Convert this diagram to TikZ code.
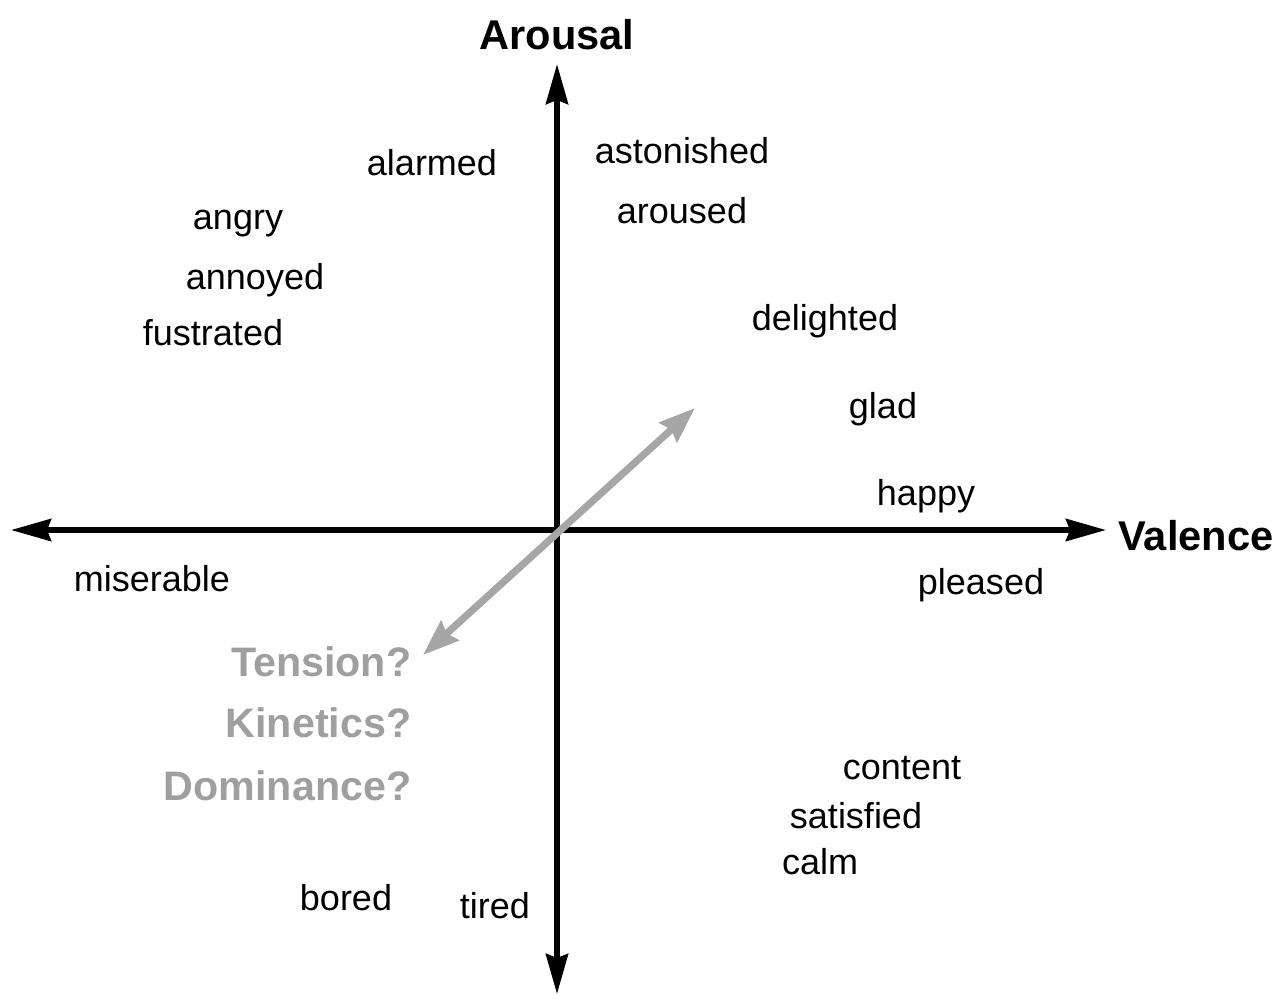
\documentclass[tikz,border=0pt]{standalone}
\usepackage{fontspec}
\setmainfont{Liberation Sans}
\usetikzlibrary{arrows.meta}

\tikzset{
  axis/.style={line width=1.4pt,black,-{Stealth[length=10pt,width=5.5pt,inset=1pt]}},
  emotion/.style={anchor=base,inner sep=0pt,font=\fontsize{9}{10}\selectfont},
  axislabel/.style={anchor=base,inner sep=0pt,font=\fontsize{10.4}{12}\selectfont\bfseries},
  guess/.style={anchor=base east,inner sep=0pt,text=gray!75,font=\fontsize{10.3}{12}\selectfont\bfseries},
}

\begin{document}
\begin{tikzpicture}[x=0.25pt,y=-0.25pt]
\useasboundingbox (0,0) rectangle (1284,998);
% axes
\coordinate (Origin) at (557,530);
\coordinate (XEnd) at (1106,530);
\coordinate (XStart) at (11,530);
\coordinate (YEnd) at (557,64);
\coordinate (YStart) at (557,994);
\coordinate (UpTip) at (695,408);
\coordinate (DownTip) at (423,655);

\draw[axis] (Origin) -- (XEnd);
\draw[axis] (Origin) -- (XStart);
\draw[axis] (Origin) -- (YEnd);
\draw[axis] (Origin) -- (YStart);
\draw[line width=1.8pt,gray!70,{Stealth[length=9pt,width=6.5pt,inset=1pt]}-{Stealth[length=9pt,width=6.5pt,inset=1pt]}]
  (DownTip) -- (UpTip);

\node[axislabel] (Arousal) at (557,49) {Arousal};
\node[axislabel] (Valence) at (1196,550) {Valence};

% high arousal, negative
\node[emotion] (alarmed) at (432,175) {alarmed};
\node[emotion] (angry) at (238,229) {angry};
\node[emotion] (annoyed) at (255,289) {annoyed};
\node[emotion] (fustrated) at (213,345) {fustrated};
% high arousal, positive
\node[emotion] (astonished) at (682,163) {astonished};
\node[emotion] (aroused) at (682,223) {aroused};
\node[emotion] (delighted) at (825,330) {delighted};
\node[emotion] (glad) at (883,418) {glad};
\node[emotion] (happy) at (926,505) {happy};
% low arousal
\node[emotion] (miserable) at (152,591) {miserable};
\node[emotion] (pleased) at (981,594) {pleased};
\node[emotion] (content) at (902,779) {content};
\node[emotion] (satisfied) at (856,828) {satisfied};
\node[emotion] (calm) at (820,874) {calm};
\node[emotion] (bored) at (346,910) {bored};
\node[emotion] (tired) at (495,918) {tired};

\node[guess] (Tension) at (412,676) {Tension?};
\node[guess] (Kinetics) at (412,737) {Kinetics?};
\node[guess] (Dominance) at (412,800) {Dominance?};
\end{tikzpicture}
\end{document}
